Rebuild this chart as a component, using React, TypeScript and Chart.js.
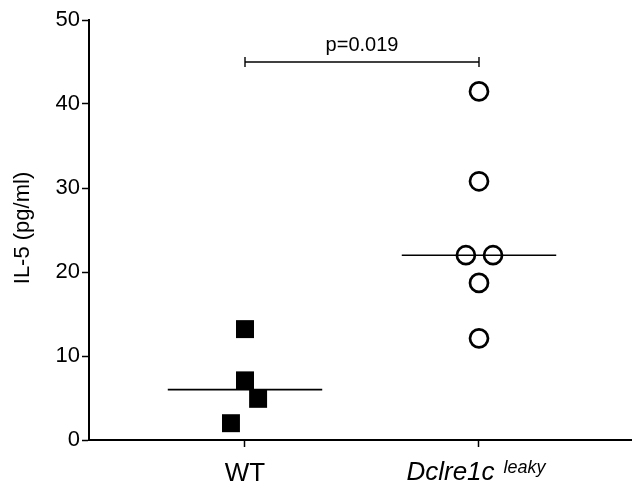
import React, { useEffect, useRef } from "react";
import { Chart, registerables } from "chart.js";

Chart.register(...registerables);

// ---- data ----
const categories = ["WT", "Dclre1c"];
const categorySuperscript = ["", "leaky"];
const wtValues = [13.2, 7.1, 4.9, 2.0];
const wtOffsets = [0, 0, 0.056, -0.06];
const dclreValues = [41.5, 30.8, 22.0, 22.0, 18.7, 12.1];
const dclreOffsets = [0, 0, -0.056, 0.06, 0, 0];
const medians = [6.0, 22.0];
const pLabel = "p=0.019";
const bracketY = 45;
const yTicks = [0, 10, 20, 30, 40, 50];
const yTitle = "IL-5 (pg/ml)";

const FONT = "'Liberation Sans', Arial, Helvetica, sans-serif";

const textPlugin = {
  id: "customText",
  afterDraw(chart: any) {
    const ctx = chart.ctx;
    const xs = chart.scales.x;
    const ys = chart.scales.y;
    ctx.save();
    ctx.fillStyle = "#000";

    // y title
    ctx.save();
    ctx.translate(29, (ys.top + ys.bottom) / 2 - 2);
    ctx.rotate(-Math.PI / 2);
    ctx.font = `22px ${FONT}`;
    ctx.textAlign = "center";
    ctx.textBaseline = "alphabetic";
    ctx.fillText(yTitle, 0, 0);
    ctx.restore();

    // x category labels
    ctx.textBaseline = "alphabetic";
    categories.forEach((c, i) => {
      const px = xs.getPixelForValue(i + 1);
      const sup = categorySuperscript[i];
      if (!sup) {
        ctx.font = `26px ${FONT}`;
        ctx.textAlign = "center";
        ctx.fillText(c, px, 481);
      } else {
        ctx.font = `italic 26px ${FONT}`;
        const w1 = ctx.measureText(c).width;
        ctx.font = `italic 18px ${FONT}`;
        const w2 = ctx.measureText(sup).width;
        const gap = 9;
        const total = w1 + gap + w2;
        const start = px - total / 2 - 3;
        ctx.textAlign = "left";
        ctx.font = `italic 26px ${FONT}`;
        ctx.fillText(c, start, 480);
        ctx.font = `italic 18px ${FONT}`;
        ctx.fillText(sup, start + w1 + gap, 473);
      }
    });

    // p value
    const mid = (xs.getPixelForValue(1) + xs.getPixelForValue(2)) / 2;
    ctx.font = `20px ${FONT}`;
    ctx.textAlign = "center";
    ctx.fillText(pLabel, mid, ys.getPixelForValue(bracketY) - 11);

    ctx.restore();
  },
};

export default function App() {
  const ref = useRef<HTMLCanvasElement | null>(null);

  useEffect(() => {
    if (!ref.current) return;
    const chart = new Chart(ref.current, {
      type: "scatter",
      data: {
        datasets: [
          {
            label: "WT median",
            type: "line",
            data: [
              { x: 1 - 0.33, y: medians[0] },
              { x: 1 + 0.33, y: medians[0] },
            ],
            borderColor: "#000",
            borderWidth: 1.6,
            pointRadius: 0,
            showLine: true,
            order: 3,
          } as any,
          {
            label: "Dclre median",
            type: "line",
            data: [
              { x: 2 - 0.33, y: medians[1] },
              { x: 2 + 0.33, y: medians[1] },
            ],
            borderColor: "#000",
            borderWidth: 1.6,
            pointRadius: 0,
            showLine: true,
            order: 3,
          } as any,
          {
            label: "bracket",
            type: "line",
            data: [
              { x: 1, y: bracketY },
              { x: 2, y: bracketY },
            ],
            borderColor: "#000",
            borderWidth: 1.4,
            pointStyle: "line",
            rotation: 90,
            pointRadius: 5,
            pointBorderWidth: 1.4,
            pointBorderColor: "#000",
            showLine: true,
            order: 3,
          } as any,
          {
            label: "WT",
            data: wtValues.map((v, i) => ({ x: 1 + wtOffsets[i], y: v })),
            pointStyle: "rect",
            pointRadius: 12.7,
            backgroundColor: "#000",
            borderColor: "#000",
            borderWidth: 0,
            order: 1,
          } as any,
          {
            label: "Dclre1c leaky",
            data: dclreValues.map((v, i) => ({ x: 2 + dclreOffsets[i], y: v })),
            pointStyle: "circle",
            pointRadius: 9,
            backgroundColor: "rgba(0,0,0,0)",
            borderColor: "#000",
            borderWidth: 2.7,
            order: 1,
          } as any,
        ],
      },
      options: {
        animation: false,
        responsive: false,
        events: [],
        layout: { autoPadding: false, padding: { top: 20, right: 0, bottom: 0, left: 0 } },
        plugins: {
          legend: { display: false },
          tooltip: { enabled: false },
        },
        scales: {
          x: {
            type: "linear",
            min: 1 - 156 / 234,
            max: 1 - 156 / 234 + 543 / 234,
            afterBuildTicks: (s: any) => {
              s.ticks = [{ value: 1 }, { value: 2 }];
            },
            afterFit: (s: any) => {
              s.height = 49;
              s.paddingLeft = 0;
              s.paddingRight = 0;
            },
            ticks: {
              callback: () => "",
              font: { family: FONT, size: 1 },
              padding: 0,
            },
            grid: {
              drawOnChartArea: false,
              drawTicks: true,
              tickLength: 7,
              tickColor: "#000",
              tickWidth: 1.5,
            },
            border: { display: true, color: "#000", width: 2 },
          },
          y: {
            type: "linear",
            min: 0,
            max: 50,
            afterBuildTicks: (s: any) => {
              s.ticks = yTicks.map((v) => ({ value: v }));
            },
            afterFit: (s: any) => {
              s.width = 89;
            },
            ticks: {
              color: "#000",
              font: { family: FONT, size: 22 },
              padding: 2,
            },
            grid: {
              drawOnChartArea: false,
              drawTicks: true,
              tickLength: 7,
              tickColor: "#000",
              tickWidth: 1.5,
            },
            border: { display: true, color: "#000", width: 2 },
          },
        },
      },
      plugins: [textPlugin],
    });
    return () => chart.destroy();
  }, []);

  return (
    <div style={{ position: "fixed", left: 0, top: 0, width: 632, height: 489, background: "#fff" }}>
      <canvas ref={ref} width={632} height={489} style={{ width: 632, height: 489, display: "block" }} />
    </div>
  );
}
